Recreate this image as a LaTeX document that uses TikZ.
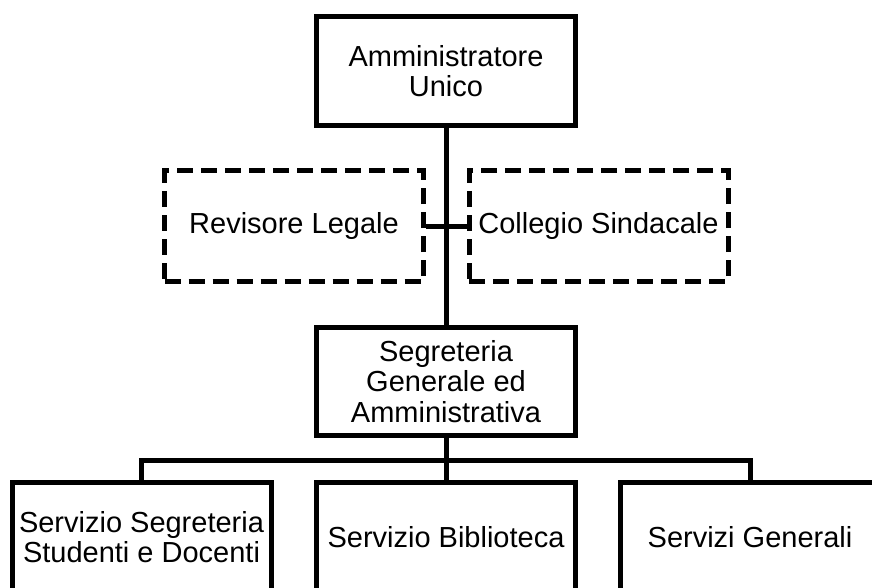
\documentclass[tikz,border=0pt]{standalone}
\usepackage{fontspec}
\setmainfont{Liberation Sans}
\usepackage{tikz}

\begin{document}
\begin{tikzpicture}[x=1pt,y=-1pt,line width=5pt,
  unitbox/.style={draw,minimum width=259pt,minimum height=109pt,inner sep=2pt,align=center,
    font=\fontsize{29pt}{30.5pt}\selectfont},
  organo/.style={unitbox,dash pattern=on 16pt off 8pt}]
\useasboundingbox (0,0) rectangle (872,588);
\clip (0,0) rectangle (872,588);
\node[unitbox] (amm) at (446,71) {Amministratore\\Unico};
\node[organo,minimum height=110pt] (rev) at (294,226) {Revisore Legale};
\node[organo,minimum height=110pt] (col) at (598.5,226) {Collegio Sindacale};
\node[unitbox,minimum height=108pt] (seg) at (446,381.5) {Segreteria\\Generale ed\\Amministrativa};
\node[unitbox] (sss) at (141.5,537) {Servizio Segreteria\\Studenti e Docenti};
\node[unitbox] (bib) at (446,537) {Servizio Biblioteca};
\node[unitbox] (gen) at (750,537) {Servizi Generali};
\coordinate (bar) at (446,460);
\draw (amm) -- (seg);
\draw (rev) -- (col);
\draw (seg) -- (bib);
\draw (sss.north) |- (bar) -| (gen.north);
\end{tikzpicture}
\end{document}
